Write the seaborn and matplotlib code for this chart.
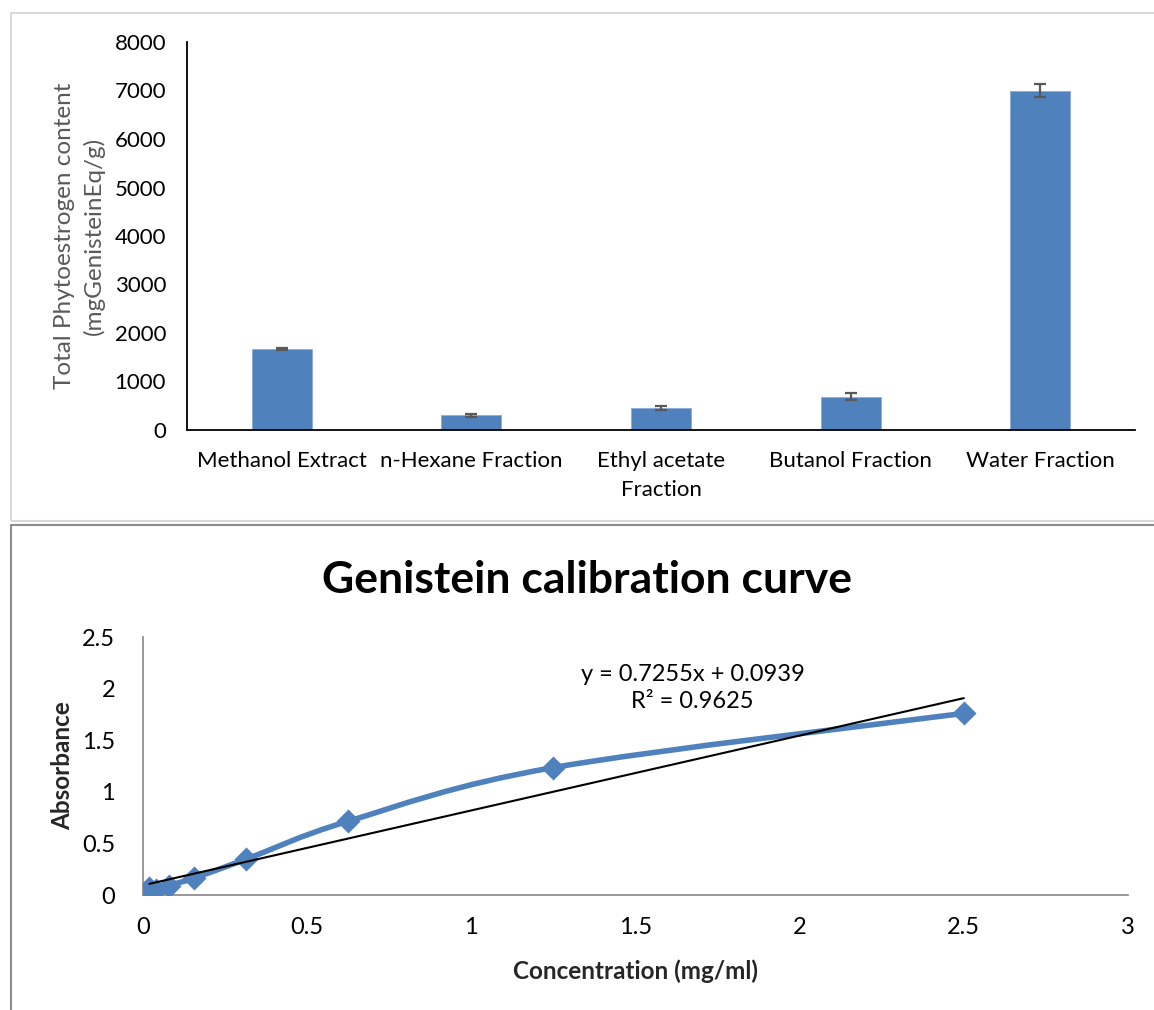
import numpy as np
import pandas as pd
import matplotlib
matplotlib.use("Agg")
import matplotlib.pyplot as plt
import seaborn as sns
from matplotlib.path import Path
from matplotlib.patches import PathPatch, Rectangle
from matplotlib.lines import Line2D

# ---------------- data ----------------
categories = ["Methanol Extract", "n-Hexane Fraction", "Ethyl acetate\nFraction",
              "Butanol Fraction", "Water Fraction"]
content = [1670, 300, 455, 690, 7000]
content_err = [15, 40, 50, 65, 125]

conc = [0.0195, 0.039, 0.078, 0.156, 0.3125, 0.625, 1.25, 2.5]
absorb = [0.065, 0.045, 0.09, 0.165, 0.345, 0.715, 1.235, 1.76]
slope, intercept = 0.7255, 0.0939
eq_text = "y = 0.7255x + 0.0939\nR² = 0.9625"

W, H = 1154, 1010
sns.set_theme(style="white")
plt.rcParams['font.family'] = ['Lato', 'DejaVu Sans']

fig = plt.figure(figsize=(W / 100, H / 100), dpi=100)

def fx(px):
    return px / W

def fy(py):
    return 1 - py / H

# panel frames
fig.add_artist(Rectangle((fx(11), fy(521)), fx(1180) - fx(11), fy(13) - fy(521),
                         transform=fig.transFigure, fill=False, edgecolor="#d9d9d9", lw=1.5))
fig.add_artist(Line2D([fx(11), fx(1160)], [fy(525), fy(525)], transform=fig.transFigure,
                      color="#8c8c8c", lw=1.5))
fig.add_artist(Line2D([fx(11), fx(11)], [fy(525), fy(1015)], transform=fig.transFigure,
                      color="#8c8c8c", lw=1.5))

# ---------------- top: bar chart ----------------
ax1 = fig.add_axes([fx(187), fy(430), fx(1135) - fx(187), fy(42) - fy(430)])
df = pd.DataFrame({"cat": categories, "val": content})
sns.barplot(data=df, x="cat", y="val", ax=ax1, color="#4f81bd", saturation=1,
            width=0.316, edgecolor="#8eaadb", linewidth=0.6)
ax1.errorbar(np.arange(len(categories)), content, yerr=content_err, fmt="none",
             ecolor="#595959", elinewidth=1.6, capsize=4.5, capthick=1.6)
ax1.set_xlim(-0.5, 4.5)
ax1.set_ylim(0, 8000)
ax1.set_yticks(np.arange(0, 8001, 1000))
ax1.set_xlabel("")
ax1.set_ylabel("Total Phytoestrogen content\n(mgGenisteinEq/g)", fontsize=17.5,
               color="#595959", labelpad=7, linespacing=1.4)
for s in ["top", "right"]:
    ax1.spines[s].set_visible(False)
for s in ["left", "bottom"]:
    ax1.spines[s].set_color("black")
    ax1.spines[s].set_linewidth(1.3)
ax1.tick_params(axis="y", length=0, pad=15, labelsize=16, labelcolor="black")
ax1.tick_params(axis="x", length=0, pad=15, labelsize=16, labelcolor="black")
for t in ax1.get_xticklabels():
    t.set_linespacing(1.6)

# ---------------- bottom: calibration curve ----------------
ax2 = fig.add_axes([fx(143), fy(895), fx(1128) - fx(143), fy(637) - fy(895)])
ax2.set_xlim(0, 3)
ax2.set_ylim(0, 2.5)

# smoothed line (Excel-style bezier through the data points)
pts = np.column_stack([conc, absorb])
n = len(pts)
verts = [tuple(pts[0])]
codes = [Path.MOVETO]
for i in range(n - 1):
    p0 = pts[i - 1] if i > 0 else pts[i]
    p1 = pts[i]
    p2 = pts[i + 1]
    p3 = pts[i + 2] if i + 2 < n else pts[i + 1]
    c1 = p1 + (p2 - p0) / 6.0
    c2 = p2 - (p3 - p1) / 6.0
    verts += [tuple(c1), tuple(c2), tuple(p2)]
    codes += [Path.CURVE4] * 3
ax2.add_patch(PathPatch(Path(verts, codes), facecolor="none", edgecolor="#4f81bd",
                        lw=4.0, capstyle="round", joinstyle="round", zorder=2))

sns.scatterplot(x=conc, y=absorb, ax=ax2, marker="D", s=150, color="#4f81bd",
                edgecolor="#4f81bd", linewidth=0, zorder=3)

trend_x = [min(conc), max(conc)]
trend_y = [slope * v + intercept for v in trend_x]
sns.lineplot(x=trend_x, y=trend_y, ax=ax2, color="black", lw=1.5, zorder=4)

ax2.text(0.558, 0.803, eq_text, transform=ax2.transAxes, ha="center", va="center",
         fontsize=17, color="black", linespacing=1.35)

ax2.set_xticks(np.arange(0, 3.01, 0.5))
ax2.set_xticklabels(["0", "0.5", "1", "1.5", "2", "2.5", "3"])
ax2.set_yticks(np.arange(0, 2.51, 0.5))
ax2.set_yticklabels(["0", "0.5", "1", "1.5", "2", "2.5"])
for s in ["top", "right"]:
    ax2.spines[s].set_visible(False)
for s in ["left", "bottom"]:
    ax2.spines[s].set_color("#868686")
    ax2.spines[s].set_linewidth(1.2)
ax2.tick_params(axis="both", direction="out", length=6, width=1.2, color="#868686",
                labelsize=17, labelcolor="black")
ax2.tick_params(axis="y", pad=14)
ax2.tick_params(axis="x", pad=10)
ax2.set_xlabel("Concentration (mg/ml)", fontsize=17.5, fontweight="bold", labelpad=15)
ax2.set_ylabel("Absorbance", fontsize=17.5, fontweight="bold", labelpad=6)

fig.text(fx(587), fy(580), "Genistein calibration curve", ha="center", va="center",
         fontsize=32, fontweight="bold", color="black")

fig.savefig("out.png", dpi=100)
